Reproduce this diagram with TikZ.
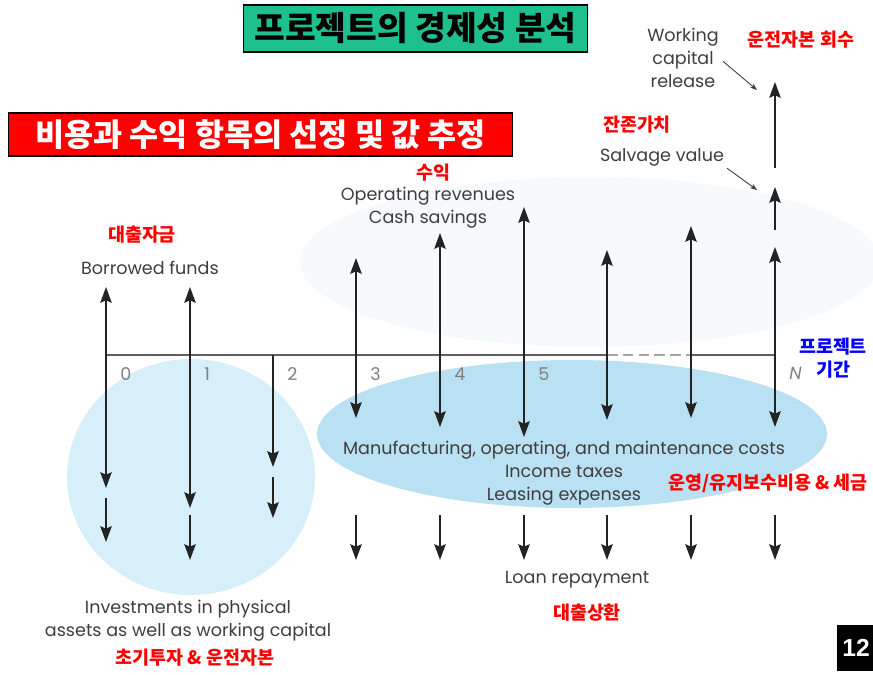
\documentclass[tikz,border=0pt]{standalone}
\usepackage{fontspec}
\usetikzlibrary{positioning, arrows.meta}
\newfontfamily\engfont{Poppins}
\newfontfamily\krfont{Noto Sans CJK KR}
\newfontfamily\numfont{Liberation Sans}
\definecolor{titlegreen}{RGB}{30,192,142}
\definecolor{txtgray}{RGB}{62,62,62}
\definecolor{axisgray}{RGB}{95,95,95}
\definecolor{flowblack}{RGB}{35,35,35}
\definecolor{lightcyan}{RGB}{214,239,249}
\definecolor{midblue}{RGB}{186,224,243}
\definecolor{paleblue}{RGB}{246,250,253}

\begin{document}
\begin{tikzpicture}[x=0.02cm, y=-0.02cm,
    eng/.style={font=\engfont\fontsize{10}{13}\selectfont, text=txtgray, align=center, inner sep=0pt},
    krred/.style={font=\krfont\bfseries\fontsize{10.5}{13.5}\selectfont, text=red, align=center, inner sep=0pt},
    krblue/.style={krred, text=blue},
    ticklbl/.style={font=\engfont\fontsize{10}{12}\selectfont, text=gray, inner sep=0pt},
    flow/.style={-{Stealth[length=9pt, width=6.5pt, inset=1.5pt]}, line width=1.2pt, draw=flowblack},
    pointer/.style={-{Stealth[length=4pt, width=3pt]}, line width=0.5pt, draw=txtgray},
    axis/.style={line width=0.9pt, draw=axisgray},
    banner/.style={draw=black, line width=0.6pt, font=\krfont\bfseries\fontsize{19}{22}\selectfont, inner sep=0pt}
  ]
  \useasboundingbox (0,0) rectangle (873,675);
  \clip (0,0) rectangle (873,675);

  % shaded areas
  \fill[paleblue] (590,262) ellipse [x radius=5.8cm, y radius=1.7cm];
  \fill[lightcyan] (191,477) ellipse [x radius=2.48cm, y radius=2.36cm];
  \fill[midblue] (572,434) ellipse [x radius=5.1cm, y radius=1.48cm];

  % headings
  \node[banner, fill=titlegreen, minimum width=6.9cm, minimum height=0.94cm] (title) at (415.5,28.5) {프로젝트의 경제성 분석};
  \node[banner, fill=red, text=white, minimum width=10.1cm, minimum height=0.86cm,
        font=\krfont\bfseries\fontsize{18}{21}\selectfont] (select) at (260.5,134.5) {비용과 수익 항목의 선정 및 값 추정};

  % time axis
  \foreach \n/\x in {0/106, 1/190, 2/273, 3/356, 4/440, 5/524, 6/607, 7/691, N/775}
    \coordinate (t\n) at (\x,355);
  \draw[axis] (t0) -- (t6);
  \draw[axis, draw=gray!70, dash pattern=on 6pt off 3pt] (t6) -- (t7);
  \draw[axis] (t7) -- (tN);
  \foreach \n in {0,...,5}
    \node[ticklbl, below right=7pt and 8pt of t\n] (lbl\n) {\n};
  \node[ticklbl, below right=7pt and 8pt of tN, font=\engfont\itshape\fontsize{10}{12}\selectfont] (lblN) {N};

  % receipts up, costs down
  \foreach \n/\x/\up/\dn in {0/106/287/488, 1/190/287/508, 3/356/258/418, 4/440/233/427,
                             5/524/207/437, 6/607/250/420, 7/691/226/418, N/775/247/427}{
    \coordinate (up\n) at (\x,\up);
    \coordinate (dn\n) at (\x,\dn);
    \draw[flow] (t\n) -- (up\n);
    \draw[flow] (t\n) -- (dn\n);
  }
  \coordinate (dn2) at (273,467);
  \draw[flow] (t2) -- (dn2);

  % second row of outflows
  \foreach \n/\x/\a/\b in {0/106/498/542, 1/190/515/560, 2/273/477/518, 3/356/515/560, 4/440/515/560,
                           5/524/515/560, 6/607/515/560, 7/691/515/560, N/775/515/560}{
    \coordinate (a\n) at (\x,\a);
    \coordinate (b\n) at (\x,\b);
    \draw[flow] (a\n) -- (b\n);
  }

  % salvage value and working capital at N
  \coordinate (svtail) at (775,230);
  \coordinate (svhead) at (775,187);
  \coordinate (wctail) at (775,168);
  \coordinate (wchead) at (775,82);
  \draw[flow] (svtail) -- (svhead);
  \draw[flow] (wctail) -- (wchead);

  % labels
  \node[eng] (wcr) at (683,58) {Working\\capital\\release};
  \node[krred] (wcrk) at (801,40) {운전자본 회수};
  \node[krred] (salvk) at (637,125) {잔존가치};
  \node[eng] (salv) at (662,157) {Salvage value};
  \node[krred] (revk) at (433,173) {수익};
  \node[eng] (rev) at (428,208) {Operating revenues\\Cash savings};
  \node[krred] (borrowk) at (142,235) {대출자금};
  \node[eng] (borrow) at (150,268) {Borrowed funds};
  \node[krblue] (period) at (833,358) {프로젝트\\기간};
  \node[eng] (costs) at (564,473) {Manufacturing, operating, and maintenance costs\\Income taxes\\Leasing expenses};
  \node[krred] (costk) at (768,483) {운영/유지보수비용 \& 세금};
  \node[eng] (loan) at (577,580) {Loan repayment};
  \node[krred] (loank) at (587,613) {대출상환};
  \node[eng] (invest) at (188,621) {Investments in physical\\assets as well as working capital};
  \node[krred] (investk) at (195,658) {초기투자 \& 운전자본};

  \coordinate (wcpt) at (757,90);
  \coordinate (svpt) at (757,190);
  \draw[pointer, shorten <=3pt] (wcr.east) -- (wcpt);
  \draw[pointer, shorten <=2pt] (salv.south east) -- (svpt);

  % page number
  \node[anchor=west, fill=black, text=white, font=\numfont\bfseries\fontsize{14}{16}\selectfont,
        minimum height=0.94cm, inner xsep=0.1cm] (page) at (837,648) {12};
\end{tikzpicture}
\end{document}
